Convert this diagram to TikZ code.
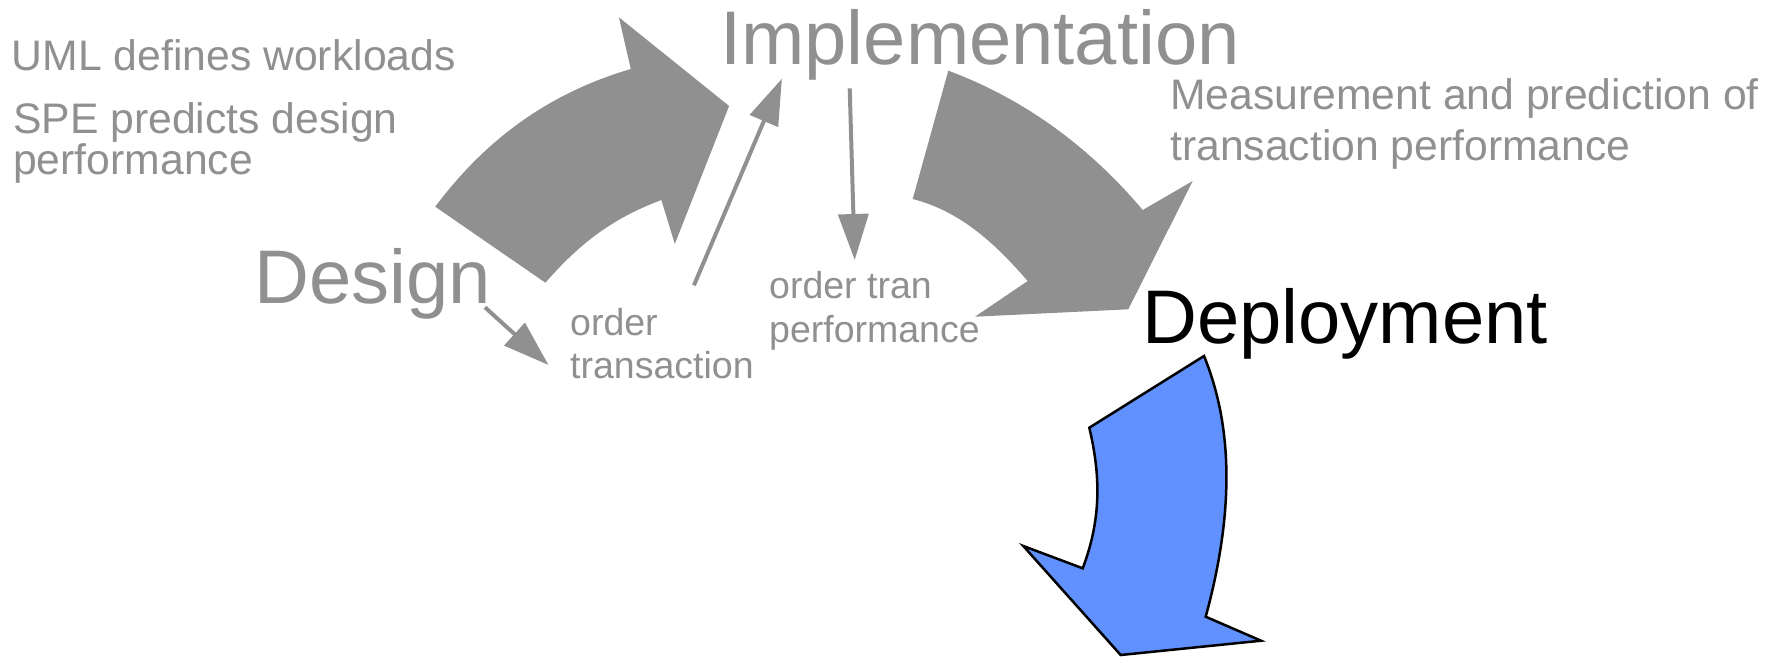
\documentclass[tikz,border=0pt]{standalone}
\usepackage{fontspec}
\setmainfont{Liberation Sans}
\usepackage{xcolor}
\definecolor{greytone}{HTML}{909090}
\definecolor{deploy}{HTML}{6190FF}
\usepackage{tikz}
\usetikzlibrary{arrows.meta}

\begin{document}
\begin{tikzpicture}[x=1pt, y=-1pt,
  note/.style={anchor=base west, inner sep=0pt, align=left, text=greytone,
    font=\fontsize{42.7}{39}\selectfont},
  small/.style={anchor=base west, inner sep=0pt, align=left, text=greytone,
    font=\fontsize{37.5}{43}\selectfont},
  phase/.style={anchor=base west, inner sep=0pt, text=greytone,
    font=\fontsize{76}{90}\selectfont},
  flow/.style={-{Triangle[length=46pt, width=30pt]}, draw=greytone, line width=4pt},
  band/.style={fill=greytone}]

  \useasboundingbox (0,0) rectangle (1775,657);

  % Phases et notes (ancre = ligne de base de la derniere ligne)
  \node[note] (uml) at (11.7,70) {UML defines workloads};
  \node[note] (spe) at (13,174) {SPE predicts design\\performance};
  \node[phase] (design) at (254,303) {Design};
  \node[phase] (impl) at (720,64) {Implementation};
  \node[note, font=\fontsize{42.7}{51}\selectfont] (meas) at (1170,160)
    {Measurement and prediction of\\transaction performance};
  \node[phase, text=black] (deploy) at (1142,343) {Deployment};
  \node[small] (ot) at (570,378) {order\\transaction};
  \node[small, font=\fontsize{37.5}{44}\selectfont] (otp) at (769,342) {order tran\\performance};

  % Bouts des fleches fines
  \coordinate (d-out) at (485,307.3);
  \coordinate (ot-in) at (548.5,365);
  \coordinate (ot-out) at (693.9,285.3);
  \coordinate (im-in) at (781.9,78.7);
  \coordinate (im-out) at (849.7,88.3);
  \coordinate (otp-in) at (854.7,260);
  \foreach \a/\b in {d-out/ot-in, ot-out/im-in, im-out/otp-in}
    \draw[flow] (\a) -- (\b);

  % Grandes fleches courbes
  \fill[band] (435.2,206.7) .. controls (486,139) and (549,93) .. (630.8,69)
    -- (618.9,17.3) -- (729.1,106) -- (674.8,244) -- (661.4,200)
    .. controls (613,218) and (580,243) .. (545.4,282.7) -- cycle;
  \fill[band] (948.3,70.7) .. controls (1022,98) and (1088,145) .. (1142.7,210)
    -- (1192.7,181) -- (1128.3,309.3) -- (975,316.7) -- (1027.7,281)
    .. controls (995,243.5) and (961,211.5) .. (912.7,199) -- cycle;
  \draw[fill=deploy, line width=2.5pt] (1204,356) -- (1089.3,427.7)
    .. controls (1101,477) and (1101,520) .. (1082.7,568.3)
    -- (1023.3,546) -- (1120.7,655) -- (1261,640.7) -- (1205.7,616.7)
    .. controls (1229,531) and (1238,439) .. cycle;
\end{tikzpicture}
\end{document}
